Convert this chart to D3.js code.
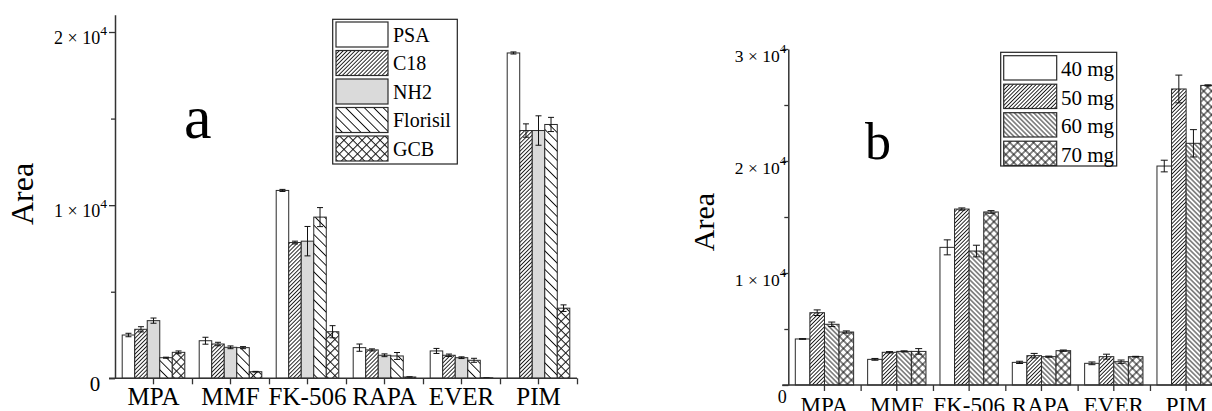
<!DOCTYPE html>
<html><head><meta charset="utf-8">
<script src="https://cdn.jsdelivr.net/npm/d3@7"></script>
<style>
body{margin:0;background:#fff}
</style>
</head><body>
<svg id="c" width="1212" height="411" font-family="'Liberation Serif', 'DejaVu Serif', serif"></svg>
<script>
// ---------- data ----------
const categories = ["MPA", "MMF", "FK-506", "RAPA", "EVER", "PIM"];

// panel a: sorbent type
const seriesA = ["PSA", "C18", "NH2", "Florisil", "GCB"];
const aPSA      = [2500, 2170, 10850, 1770, 1580, 18790];
const aC18      = [2830, 1980, 7840, 1640, 1330, 14310];
const aNH2      = [3330, 1790, 7920, 1330, 1190, 14310];
const aFlorisil = [1190, 1770, 9310, 1290, 1040, 14660];
const aGCB      = [1500, 380, 2690, 75, 30, 4050];
const aPSAErr      = [100, 200, 60, 210, 145, 60];
const aC18Err      = [150, 100, 80, 60, 70, 385];
const aNH2Err      = [150, 80, 850, 80, 50, 850];
const aFlorisilErr = [30, 60, 550, 200, 115, 410];
const aGCBErr      = [80, 20, 350, 10, 5, 190];
const aMajorTicks = [0, 10000, 20000];
const aMinorTicks = [5000, 15000];

// panel b: sorbent amount
const seriesB = ["40 mg", "50 mg", "60 mg", "70 mg"];
const b40 = [4110, 2290, 12290, 2020, 1935, 19550];
const b50 = [6455, 2920, 15710, 2620, 2530, 26430];
const b60 = [5420, 3000, 11960, 2530, 2080, 21580];
const b70 = [4730, 3000, 15450, 3065, 2530, 26750];
const b40Err = [30, 80, 670, 100, 120, 520];
const b50Err = [250, 60, 100, 200, 220, 1240];
const b60Err = [200, 50, 520, 50, 150, 1220];
const b70Err = [100, 250, 120, 60, 30, 50];
const bMajorTicks = [0, 10000, 20000, 30000];
const bMinorTicks = [5000, 15000, 25000];

const FONT = "'Liberation Serif', 'DejaVu Serif', 'Times New Roman', serif";

// ---------- patterns ----------
const svg = d3.select("#c");
svg.append("rect").attr("width", 1212).attr("height", 411).attr("fill", "#fff");
const defs = svg.append("defs");
function hatch(id, angle, s, sw, cross) {
  const p = defs.append("pattern").attr("id", id).attr("patternUnits", "userSpaceOnUse")
    .attr("width", s).attr("height", s).attr("patternTransform", `rotate(${angle})`);
  p.append("rect").attr("width", s).attr("height", s).attr("fill", "#fff");
  p.append("line").attr("x1", s / 2).attr("y1", 0).attr("x2", s / 2).attr("y2", s)
    .attr("stroke", "#111").attr("stroke-width", sw);
  if (cross) p.append("line").attr("x1", 0).attr("y1", s / 2).attr("x2", s).attr("y2", s / 2)
    .attr("stroke", "#111").attr("stroke-width", sw);
}
hatch("fwdA", 45, 2.8, 0.9, false);
hatch("backA", -45, 6.6, 1, false);
hatch("crossA", 45, 6.4, 1, true);
hatch("fwdB", 45, 2.7, 0.9, false);
hatch("backB", -45, 3.4, 0.9, false);
hatch("crossB", 45, 5.6, 1, true);

// ---------- panel drawing ----------
function panel(cfg) {
  const x0 = d3.scaleBand().domain(categories).range([cfg.left, cfg.right]).padding(0);
  const x1 = d3.scaleBand().domain(cfg.names).range([cfg.pad, x0.bandwidth() - cfg.pad]).padding(0);
  const y = d3.scaleLinear().domain([0, cfg.ymax]).range([cfg.bottom, cfg.top]);
  const idx = d3.scaleLinear().domain([0, categories.length]).range([cfg.left, cfg.right]);
  const g = svg.append("g");

  cfg.names.forEach((name, si) => {
    const vals = cfg.values[si], errs = cfg.errors[si];
    const rows = categories.map((c, i) => ({c, v: vals[i], e: errs[i]}));
    g.append("g").selectAll("rect").data(rows).join("rect")
      .attr("x", d => x0(d.c) + x1(name))
      .attr("y", d => y(d.v))
      .attr("width", x1.bandwidth())
      .attr("height", d => y(0) - y(d.v))
      .attr("fill", cfg.fills[si])
      .attr("stroke", "#2a2a2a").attr("stroke-width", 1);
    const eg = g.append("g").attr("stroke", "#111").attr("stroke-width", 1).attr("fill", "none");
    rows.forEach(d => {
      const cx = x0(d.c) + x1(name) + x1.bandwidth() / 2;
      const h = cfg.cap / 2;
      eg.append("path").attr("d",
        `M${cx},${y(d.v + d.e)}V${y(d.v - d.e)}` +
        `M${cx - h},${y(d.v + d.e)}H${cx + h}` +
        `M${cx - h},${y(d.v - d.e)}H${cx + h}`);
    });
  });

  // y axis
  const ya = g.append("g").attr("transform", `translate(${cfg.left},0)`)
    .call(d3.axisLeft(y).tickValues(cfg.major).tickSize(6).tickSizeOuter(0).tickFormat(""));
  ya.select(".domain").attr("stroke", "#333").attr("stroke-width", 1.5);
  ya.selectAll(".tick line").attr("stroke", "#333").attr("stroke-width", 1.3);
  ya.selectAll(".tick text").each(function (d) {
    const t = d3.select(this);
    if (d === 0) {
      t.attr("x", cfg.zeroDx).attr("dy", null).attr("y", cfg.zeroDy)
        .attr("text-anchor", "middle").attr("font-size", cfg.zeroSize).text("0");
      return;
    }
    t.attr("x", -cfg.labelGap).attr("dy", null).attr("y", cfg.labelDy)
      .attr("font-size", cfg.tickSize);
    t.append("tspan").text(`${d / 10000} × 10`);
    t.append("tspan").attr("dy", -cfg.tickSize * 0.5).attr("font-size", cfg.tickSize * 0.75).text("4");
  });
  const ym = g.append("g").attr("transform", `translate(${cfg.left},0)`)
    .call(d3.axisLeft(y).tickValues(cfg.minor).tickSize(4).tickFormat(""));
  ym.select(".domain").remove();
  ym.selectAll(".tick line").attr("stroke", "#333").attr("stroke-width", 1.3);

  // x axis
  const xb = g.append("g").attr("transform", `translate(0,${cfg.bottom})`)
    .call(d3.axisBottom(idx).tickValues(d3.range(1, categories.length + 1)).tickSize(6).tickSizeOuter(0).tickFormat(""));
  xb.select(".domain").remove();
  xb.selectAll(".tick line").attr("stroke", "#333").attr("stroke-width", 1.3);
  const xa = g.append("g").attr("transform", `translate(0,${cfg.bottom})`)
    .call(d3.axisBottom(x0).tickSize(6).tickSizeOuter(0));
  xa.select(".domain").attr("d", `M${cfg.left - 6},0H${cfg.right}`).attr("stroke", "#333").attr("stroke-width", 1.5);
  xa.selectAll(".tick line").attr("stroke", "#333").attr("stroke-width", 1.3);
  xa.selectAll(".tick text").attr("dy", null).attr("y", cfg.catDy)
    .attr("font-size", cfg.catSize).attr("fill", "#000");

  // y title
  svg.append("text").attr("transform", `translate(${cfg.titleX},${cfg.titleY}) rotate(-90)`)
    .attr("text-anchor", "middle").attr("font-size", cfg.titleSize).text("Area");

  // panel letter
  svg.append("text").attr("x", cfg.letterX).attr("y", cfg.letterY)
    .attr("font-size", cfg.letterSize).text(cfg.letter);

  // legend
  const L = cfg.legend;
  const lg = svg.append("g");
  lg.append("rect").attr("x", L.x).attr("y", L.y).attr("width", L.w).attr("height", L.h)
    .attr("fill", "#fff").attr("stroke", "#222").attr("stroke-width", 1.2);
  cfg.names.forEach((name, si) => {
    const ry = L.y + L.first + si * L.step;
    lg.append("rect").attr("x", L.sx).attr("y", ry).attr("width", L.sw).attr("height", L.sh)
      .attr("fill", cfg.fills[si]).attr("stroke", "#2a2a2a").attr("stroke-width", 1.2);
    lg.append("text").attr("x", L.tx).attr("y", ry + L.sh / 2 + L.textDy)
      .attr("font-size", L.size).text(name);
  });
}

panel({
  names: seriesA,
  values: [aPSA, aC18, aNH2, aFlorisil, aGCB],
  errors: [aPSAErr, aC18Err, aNH2Err, aFlorisilErr, aGCBErr],
  fills: ["#fff", "url(#fwdA)", "#dadada", "url(#backA)", "url(#crossA)"],
  left: 115, right: 577, pad: 7.2, top: 14.7, bottom: 378.3, ymax: 21000,
  major: aMajorTicks, minor: aMinorTicks, cap: 6,
  labelGap: 8, labelDy: 11, tickSize: 18, zeroDx: -20, zeroDy: 12, zeroSize: 21,
  catDy: 27, catSize: 25,
  titleX: 33, titleY: 194, titleSize: 32,
  letter: "a", letterX: 184, letterY: 138, letterSize: 62,
  legend: {x: 332.7, y: 19.3, w: 124.6, h: 144.7, first: 2.7, step: 28.5, sx: 336, sw: 52, sh: 25,
           tx: 393, textDy: 7, size: 20}
});

panel({
  names: seriesB,
  values: [b40, b50, b60, b70],
  errors: [b40Err, b50Err, b60Err, b70Err],
  fills: ["#fff", "url(#fwdB)", "url(#backB)", "url(#crossB)"],
  left: 788.3, right: 1222.3, pad: 7, top: 49, bottom: 385, ymax: 30000,
  major: bMajorTicks, minor: bMinorTicks, cap: 7,
  labelGap: 2, labelDy: 12, tickSize: 17.5, zeroDx: -6, zeroDy: 17, zeroSize: 18,
  catDy: 28, catSize: 23,
  titleX: 714, titleY: 222, titleSize: 30,
  letter: "b", letterX: 865, letterY: 159, letterSize: 52,
  legend: {x: 1000.7, y: 52.3, w: 116, h: 113.7, first: 3.4, step: 28.5, sx: 1003.7, sw: 53, sh: 24.3,
           tx: 1061, textDy: 8.5, size: 21}
});

// one serif family for every text, overriding the axis defaults
svg.selectAll("g").filter(function () { return this.hasAttribute("font-family"); }).attr("font-family", null);
svg.selectAll("text, tspan").style("font-family", FONT);
</script>
</body></html>
